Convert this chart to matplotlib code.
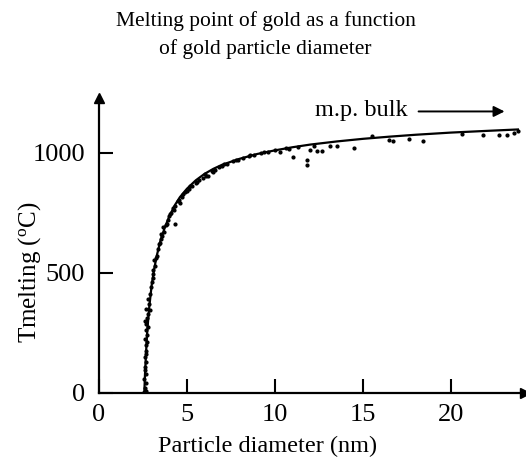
#!/usr/bin/env python3
"""Melting point of gold vs. particle diameter (size-dependent melting)."""

import matplotlib
matplotlib.use('Agg')
import matplotlib.pyplot as plt

plt.rcParams['font.family'] = ['Liberation Serif', 'DejaVu Serif']
plt.rcParams['mathtext.fontset'] = 'custom'
plt.rcParams['mathtext.rm'] = 'Liberation Serif'
plt.rcParams['mathtext.it'] = 'Liberation Serif'

# fitted curve
curve_d = [2.58, 2.62, 2.68, 2.75, 2.85, 3.0, 3.15, 3.3, 3.5, 3.75, 4.0, 4.3,
           4.6, 5.0, 5.5, 6.0, 6.5, 7.0, 8.0, 9.0, 10.0, 11.0, 12.0, 13.5,
           15.0, 16.5, 18.0, 20.0, 22.0, 23.8]
curve_t = [0, 80, 170, 260, 350, 450, 520, 575, 635, 690, 735, 780,
           815, 850, 885, 912, 933, 950, 975, 995, 1010, 1023, 1034, 1047,
           1058, 1067, 1075, 1084, 1091, 1097]

# measured points
pts_d = [2.55, 2.6, 2.65, 2.7, 2.55, 2.65, 2.6, 2.7, 2.6, 2.65, 2.7, 2.6,
         2.75, 2.65, 2.7, 2.6, 2.75, 2.8, 2.7, 2.85, 2.8, 2.9, 2.95, 3.0,
         3.05, 3.1, 3.2, 3.15, 3.3, 3.35, 3.4, 3.5, 3.55, 3.7, 3.65, 3.8,
         3.9, 4.0, 4.1, 4.2, 4.3, 4.35, 4.5, 4.6, 4.7, 4.8, 5.0, 5.1,
         5.3, 5.5, 5.7, 5.9, 6.0, 6.2, 6.4, 6.6, 6.8, 7.0, 7.3, 7.6,
         7.9, 8.2, 8.5, 8.8, 9.2, 9.6, 10.0, 10.3, 10.6, 11.0, 11.3, 11.8,
         11.8, 12.0, 12.4, 12.7, 13.1, 13.5, 14.5, 15.5, 16.5, 16.7, 17.6, 18.4,
         20.6, 21.8, 22.7, 23.2, 23.6, 23.8,
         2.62, 2.68, 2.72, 2.78, 2.88, 3.08, 3.25, 3.45, 3.6, 3.85, 4.05, 4.25,
         4.55, 4.9, 5.2, 5.6, 6.1, 6.5, 7.1, 7.8, 8.6, 9.4, 10.8, 12.2]
pts_t = [5, 20, 10, 40, 60, 80, 110, 130, 150, 175, 200, 225,
         240, 260, 285, 300, 310, 330, 350, 370, 390, 410, 440, 460,
         480, 510, 530, 555, 570, 600, 620, 640, 660, 670, 690, 700,
         720, 735, 750, 770, 705, 780, 800, 790, 815, 830, 840, 850,
         860, 875, 885, 895, 910, 905, 925, 930, 940, 945, 955, 965,
         970, 980, 985, 990, 1000, 1005, 1010, 1005, 1020, 983, 1025, 971,
         950, 1012, 1008, 1008, 1029, 1029, 1020, 1070, 1054, 1050, 1058, 1050,
         1079, 1075, 1075, 1075, 1083, 1090,
         95, 160, 210, 275, 345, 495, 560, 625, 655, 705, 745, 760,
         805, 835, 862, 880, 905, 920, 952, 968, 990, 1002, 1015, 1030]

x_ticks = [0, 5, 10, 15, 20]
y_ticks = [0, 500, 1000]


def main():
    fig = plt.figure(figsize=(5.26, 4.70), dpi=100)
    ax = fig.add_axes([0.188, 0.164, 0.810, 0.628])

    ax.plot(curve_d, curve_t, color='black', linewidth=1.6)
    ax.plot(pts_d, pts_t, 'o', color='black', markersize=2.0, linestyle='none')

    ax.set_xlim(0, 24.2)
    ax.set_ylim(0, 1229)
    ax.set_xticks(x_ticks)
    ax.set_yticks(y_ticks)
    ax.tick_params(direction='in', length=10, width=1.5, labelsize=19)
    ax.tick_params(axis='x', pad=8)
    ax.tick_params(axis='y', pad=10)

    for side in ['top', 'right']:
        ax.spines[side].set_visible(False)
    for side in ['left', 'bottom']:
        ax.spines[side].set_linewidth(1.6)

    # axis arrowheads
    ax.plot(1, 0, '>', color='black', markersize=7, transform=ax.transAxes, clip_on=False)
    ax.plot(0, 1, '^', color='black', markersize=7, transform=ax.transAxes, clip_on=False)

    ax.set_xlabel('Particle diameter (nm)', fontsize=17.5)
    ax.xaxis.set_label_coords(0.397, -0.145)
    ax.set_ylabel('Tmelting ($^{\\rm o}$C)', fontsize=18)
    ax.yaxis.set_label_coords(-0.132, 0.41)

    ax.text(12.3, 1176, 'm.p. bulk', fontsize=17.5, va='center', ha='left')
    ax.annotate('', xy=(23.2, 1172), xytext=(18.0, 1172),
                arrowprops=dict(arrowstyle='-|>', color='black', lw=1.4,
                                mutation_scale=16))

    fig.text(0.505, 0.955, 'Melting point of gold as a function', fontsize=15.5,
             ha='center', va='center')
    fig.text(0.505, 0.896, 'of gold particle diameter', fontsize=15.5,
             ha='center', va='center')

    fig.savefig('out.png', dpi=100)


if __name__ == '__main__':
    main()
